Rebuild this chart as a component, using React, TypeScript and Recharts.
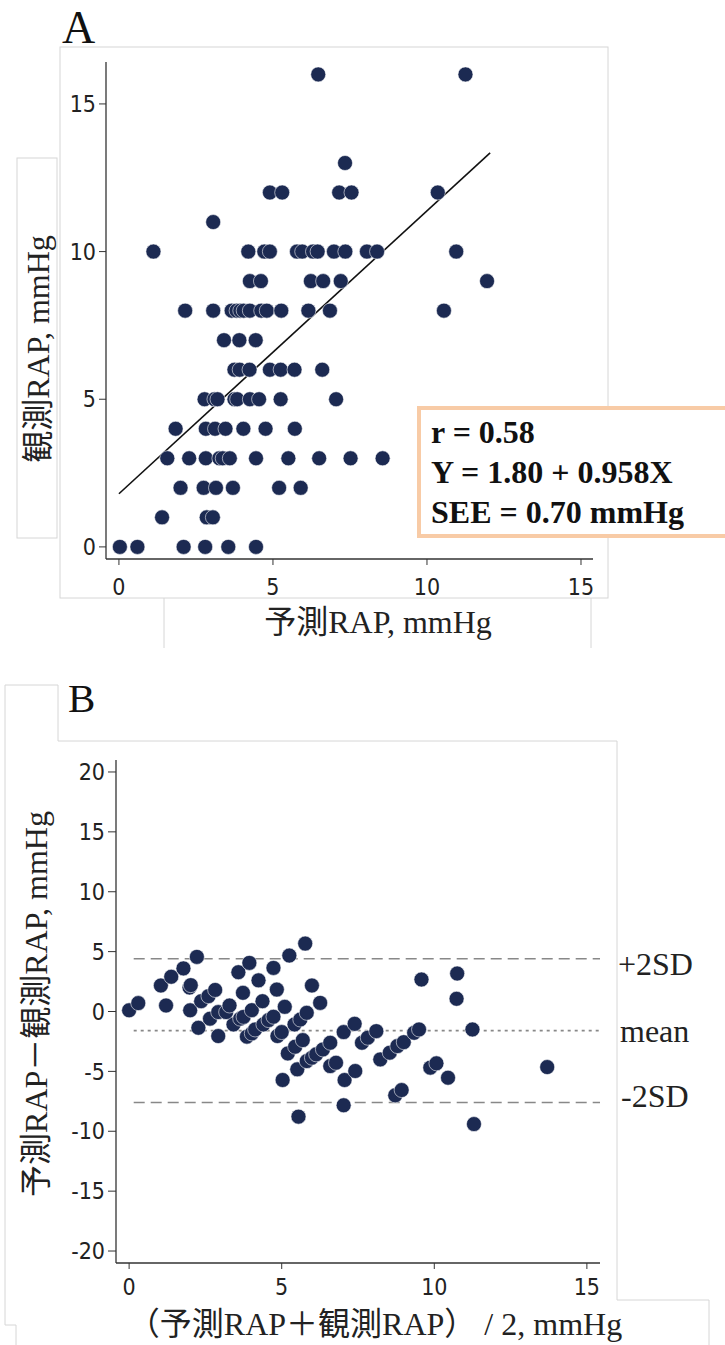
import React from 'react'
import { ScatterChart, Scatter, XAxis, YAxis, ReferenceLine } from 'recharts'

const NAVY = '#1c2a52'
const FRAME = '#d6d6d6'
const SERIF = "'Liberation Serif', 'Times New Roman', 'Noto Sans CJK JP', serif"
const TICK_FONT = "'Liberation Sans Narrow', 'DejaVu Sans Condensed', 'Liberation Sans', sans-serif"

// Panel A: observed RAP levels and predicted RAP of each point on that level
const A_TICKS = [0, 5, 10, 15]
const OBSERVED_LEVELS = [0, 1, 2, 3, 4, 5, 6, 7, 8, 9, 10, 11, 12, 13, 16]
const PREDICTED_BY_LEVEL = [
  [0.03, 0.6, 2.1, 2.8, 3.55, 4.45],
  [1.4, 2.85, 3.05],
  [2.0, 2.75, 3.15, 3.7, 5.2, 5.9],
  [1.57, 2.28, 2.82, 3.26, 3.37, 3.6, 4.45, 5.5, 6.5, 7.52, 8.56],
  [1.84, 2.82, 3.12, 3.46, 4.04, 4.76, 5.71],
  [2.78, 3.1, 3.2, 3.75, 3.84, 4.25, 4.55, 5.25, 7.05],
  [3.75, 3.92, 4.24, 4.9, 5.25, 5.7, 6.6],
  [3.41, 3.91, 4.44],
  [2.15, 3.06, 3.66, 3.82, 3.94, 4.05, 4.25, 4.62, 4.8, 5.27, 6.15, 6.85, 10.55],
  [4.25, 4.61, 6.23, 6.63, 7.2, 11.95],
  [1.12, 4.2, 4.72, 4.9, 5.78, 5.95, 6.3, 6.45, 6.98, 7.35, 8.05, 8.38, 10.95],
  [3.06],
  [4.9, 5.3, 7.15, 7.55, 10.35],
  [7.34],
  [6.47, 11.25],
]

const FIT_INTERCEPT = 1.8
const FIT_SLOPE = 0.958
const FIT_X = [0, 12.05]

// Panel B: Bland-Altman
const B_MEAN = [
  0.0, 0.3, 1.04, 1.21, 1.38, 1.78, 2.22, 1.98, 2.02, 2.0, 2.27, 2.36, 2.6, 2.82, 2.65, 2.92, 2.92,
  3.42, 3.64, 3.75, 3.18, 3.29, 3.58, 3.94, 3.73, 4.02, 3.86, 4.02, 4.13, 4.24, 4.37, 4.4, 4.57,
  4.73, 4.73, 4.84, 5.1, 4.86, 5.0, 5.25, 5.42, 5.61, 5.82, 5.2, 5.44, 5.69, 5.03, 5.51, 5.77,
  5.99, 6.26, 5.82, 5.99, 6.13, 6.35, 6.59, 6.59, 6.78, 7.03, 7.39, 7.06, 7.41, 7.03, 5.55, 7.63,
  7.82, 8.1, 8.23, 8.54, 8.79, 9.0, 8.72, 8.93, 9.34, 9.5, 9.58, 9.87, 10.07, 10.45, 10.75, 10.73,
  11.25, 11.3, 13.7,
]
const B_DIFF = [
  0.1, 0.7, 2.17, 0.5, 2.9, 3.6, 4.56, 2.0, 2.2, 0.1, -1.36, 0.86, 1.28, 1.8, -0.6, -0.05, -2.05,
  -1.08, -0.6, -0.45, -0.05, 0.5, 3.28, 4.06, 1.56, 0.11, -2.1, -1.83, -1.5, 2.6, 0.86, -1.08, -0.72,
  -0.44, 3.64, 1.83, 0.39, -2.05, -1.72, 4.67, -1.08, -0.67, -0.11, -3.5, -2.94, -2.39, -5.72, -4.83, 5.67,
  2.17, 0.72, -4.14, -3.86, -3.58, -3.17, -2.61, -4.56, -4.28, -1.72, -1.03, -5.72, -4.97, -7.83, -8.78, -2.61,
  -2.19, -1.64, -4.0, -3.44, -2.89, -2.56, -7.0, -6.56, -1.78, -1.5, 2.67, -4.69, -4.33, -5.53, 3.17, 1.06,
  -1.5, -9.4, -4.64,
]
const B_X_TICKS = [0, 5, 10, 15]
const B_Y_TICKS = [-20, -15, -10, -5, 0, 5, 10, 15, 20]
const DIFF_MEAN = -1.6
const DIFF_UPPER = 4.4
const DIFF_LOWER = -7.6

const dataA = OBSERVED_LEVELS.flatMap((obs, i) => PREDICTED_BY_LEVEL[i].map(p => ({ x: p, y: obs })))
const dataB = B_MEAN.map((m, i) => ({ x: m, y: B_DIFF[i] }))

const Dot = (props: any) => (
  <circle cx={props.cx} cy={props.cy} r={7.5} fill={NAVY} stroke="#ffffff" strokeOpacity={0.7} strokeWidth={0.8} />
)

const tickStyle = { fontSize: 23, fill: '#222', fontFamily: TICK_FONT }
const axisLine = { stroke: '#333', strokeWidth: 1.3 }

export default function App() {
  return (
    <div style={{ position: 'absolute', left: 0, top: 0, width: 725, height: 1345, overflow: 'hidden', background: '#fff' }}>
      {/* A: scatter with regression */}
      <div style={{ position: 'absolute', left: 0, top: 0 }}>
        <ScatterChart width={725} height={660} margin={{ top: 62, right: 132, bottom: 61, left: 56 }}>
          <XAxis
            type="number"
            dataKey="x"
            domain={[-0.42, 15.39]}
            ticks={A_TICKS}
            height={40}
            tick={tickStyle}
            tickSize={6}
            tickMargin={14}
            axisLine={axisLine}
            tickLine={{ stroke: '#333' }}
          />
          <YAxis
            type="number"
            dataKey="y"
            domain={[-0.41, 16.42]}
            ticks={A_TICKS}
            width={50}
            tick={tickStyle}
            tickSize={7}
            tickMargin={3}
            axisLine={axisLine}
            tickLine={{ stroke: '#333' }}
          />
          <ReferenceLine
            segment={[
              { x: FIT_X[0], y: FIT_INTERCEPT + FIT_SLOPE * FIT_X[0] },
              { x: FIT_X[1], y: FIT_INTERCEPT + FIT_SLOPE * FIT_X[1] },
            ]}
            stroke="#111"
            strokeWidth={1.6}
            ifOverflow="visible"
          />
          <Scatter data={dataA} shape={Dot} isAnimationActive={false} />
        </ScatterChart>
      </div>

      {/* B: Bland-Altman */}
      <div style={{ position: 'absolute', left: 0, top: 680 }}>
        <ScatterChart width={725} height={665} margin={{ top: 80, right: 125, bottom: 42, left: 66 }}>
          <XAxis
            type="number"
            dataKey="x"
            domain={[-0.43, 15.43]}
            ticks={B_X_TICKS}
            height={40}
            tick={tickStyle}
            tickSize={6}
            tickMargin={10}
            axisLine={axisLine}
            tickLine={{ stroke: '#333' }}
          />
          <YAxis
            type="number"
            dataKey="y"
            domain={[-21, 21]}
            ticks={B_Y_TICKS}
            width={50}
            tick={tickStyle}
            tickSize={8}
            tickMargin={3}
            axisLine={axisLine}
            tickLine={{ stroke: '#333' }}
          />
          <ReferenceLine segment={[{ x: 0.15, y: DIFF_UPPER }, { x: 15.43, y: DIFF_UPPER }]} stroke="#888" strokeWidth={1.6} strokeDasharray="11 6" />
          <ReferenceLine segment={[{ x: 0.15, y: DIFF_MEAN }, { x: 15.43, y: DIFF_MEAN }]} stroke="#888" strokeWidth={1.6} strokeDasharray="3 4" />
          <ReferenceLine segment={[{ x: 0.15, y: DIFF_LOWER }, { x: 15.43, y: DIFF_LOWER }]} stroke="#888" strokeWidth={1.6} strokeDasharray="11 6" />
          <Scatter data={dataB} shape={Dot} isAnimationActive={false} />
        </ScatterChart>
      </div>

      {/* frames, titles, labels */}
      <svg width={725} height={1345} style={{ position: 'absolute', left: 0, top: 0, pointerEvents: 'none' }} fontFamily={SERIF}>
        <rect x={60} y={47} width={548} height={551} fill="none" stroke={FRAME} />
        <rect x={17} y={158} width={40} height={380} fill="none" stroke={FRAME} />
        <path d="M164 598 V648 M591 598 V648" stroke={FRAME} fill="none" />
        <path d="M16 1345 V1325 H5 V685 H58 V741 H617 V1300 H709 V1345" stroke={FRAME} fill="none" />

        <text x={62} y={43} fontSize={46} fill="#111">A</text>
        <text x={68} y={712} fontSize={41} fill="#111">B</text>

        <text x={378} y={633} fontSize={32} textAnchor="middle" fill="#222">予測RAP, mmHg</text>
        <text transform="translate(49,349) rotate(-90)" fontSize={32} textAnchor="middle" fill="#222">観測RAP, mmHg</text>

        <rect x={419} y={408} width={330} height={128} fill="#fff" stroke="#f8cba6" strokeWidth={4} />
        <text x={431} y={443} fontSize={32} fontWeight="bold" fill="#111">r = 0.58</text>
        <text x={431} y={483} fontSize={32} fontWeight="bold" fill="#111">Y = 1.80 + 0.958X</text>
        <text x={431} y={523} fontSize={32} fontWeight="bold" fill="#111">SEE = 0.70 mmHg</text>

        <text x={618} y={975} fontSize={32} fill="#222">+2SD</text>
        <text x={620} y={1042} fontSize={32} fill="#222">mean</text>
        <text x={621} y={1107} fontSize={32} fill="#222">-2SD</text>

        <text x={375} y={1335} fontSize={32} textAnchor="middle" fill="#222">（予測RAP＋観測RAP） / 2, mmHg</text>
        <text transform="translate(47,1004) rotate(-90)" fontSize={32} textAnchor="middle" fill="#222">予測RAP－観測RAP, mmHg</text>
      </svg>
    </div>
  )
}
